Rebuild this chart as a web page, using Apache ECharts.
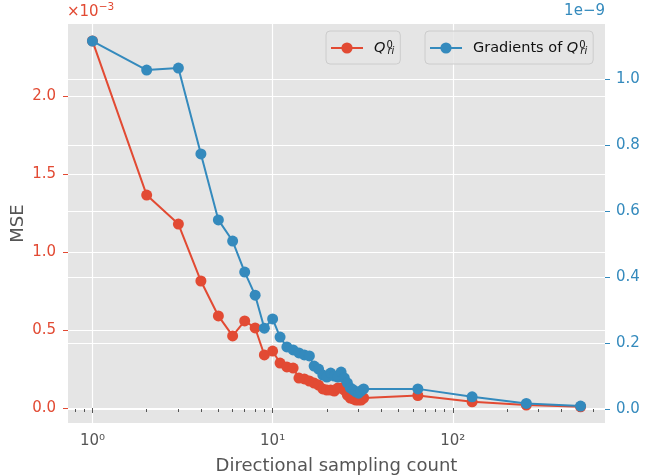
<!DOCTYPE html>
<html>
<head>
<meta charset="utf-8">
<script src="https://cdn.jsdelivr.net/npm/echarts@6/dist/echarts.min.js"></script>
<style>
html,body{margin:0;padding:0;background:#fff;}
#chart{width:651px;height:475px;}
</style>
</head>
<body>
<div id="chart"></div>
<script>
// Directional sampling counts (x, log scale)
const sampleCounts = [1,2,3,4,5,6,7,8,9,10,11,12,13,14,15,16,17,18,19,20,21,22,23,24,25,26,27,28,29,30,31,32,64,128,256,512];
// MSE of Q_ri^0, in units of 1e-3 (left axis)
const mseQ = [2.353,1.365,1.179,0.814,0.590,0.462,0.558,0.513,0.340,0.365,0.288,0.263,0.256,0.192,0.186,0.173,0.160,0.147,0.122,0.115,0.115,0.109,0.128,0.128,0.115,0.083,0.064,0.058,0.051,0.051,0.051,0.064,0.080,0.040,0.019,0.008];
// MSE of gradients of Q_ri^0, in units of 1e-9 (right axis)
const mseGrad = [1.115,1.027,1.033,0.773,0.573,0.509,0.415,0.345,0.245,0.273,0.218,0.188,0.179,0.170,0.164,0.161,0.130,0.121,0.103,0.097,0.109,0.100,0.097,0.112,0.094,0.079,0.064,0.058,0.052,0.048,0.055,0.061,0.061,0.037,0.017,0.009];
// Tick labels / values
const xMajorTicks = [1,10,100];
const xMinorTicks = [0.8,0.9,2,3,4,5,6,7,8,9,20,30,40,50,60,70,80,90,200,300,400,500,600];
const leftTicks = [0,0.5,1.0,1.5,2.0];
const rightTicks = [0,0.2,0.4,0.6,0.8,1.0];
const seriesNames = ['Q_ri^0','Gradients of Q_ri^0'];

const RED = '#E24A33', BLUE = '#348ABD', GRAY = '#555555';
const FONT = 'DejaVu Sans';
const supDigits = {'0':'⁰','1':'¹','2':'²','3':'³','-':'⁻'};

const chart = echarts.init(document.getElementById('chart'), null, {renderer:'canvas'});

const richLegend = {
  t:{fontSize:14.5,fontFamily:FONT,color:'#111',lineHeight:16},
  q:{fontSize:14.5,fontFamily:FONT,fontStyle:'italic',color:'#111',lineHeight:16},
  sup:{fontSize:10,fontFamily:FONT,color:'#111',lineHeight:10,verticalAlign:'top',width:1,padding:[0,0,0,1]},
  sub:{fontSize:10,fontFamily:FONT,fontStyle:'italic',color:'#111',lineHeight:10,verticalAlign:'bottom'}
};
function legendFmt(name){
  if(name === seriesNames[0]) return '{q|Q}{sup|0}{sub|ri}';
  return '{t|Gradients of }{q|Q}{sup|0}{sub|ri}';
}
function legendCfg(idx,left){
  return {
    data:[seriesNames[idx]], left:left, top:31, orient:'horizontal',
    itemWidth:32, itemHeight:14, itemGap:0,
    padding:[9,6,8,4],
    backgroundColor:'rgba(229,229,229,0.8)', borderColor:'#CCCCCC', borderWidth:1, borderRadius:4,
    formatter:legendFmt,
    textStyle:{fontFamily:FONT,fontSize:14.5,color:'#111',padding:[0,0,0,6],rich:richLegend}
  };
}

const xMin = 0.7318, xMax = 699.6;

const option = {
  animation:false,
  backgroundColor:'#ffffff',
  textStyle:{fontFamily:FONT},
  title:[
    {text:'{a|×10}{s|\u22123}', left:67, top:2, padding:0,
     textStyle:{fontWeight:'normal',rich:{
       a:{color:RED,fontSize:15,fontWeight:'normal',fontFamily:FONT,lineHeight:18,verticalAlign:'bottom'},
       s:{color:RED,fontSize:10.5,fontWeight:'normal',fontFamily:FONT,lineHeight:10,verticalAlign:'top'}}}},
    {text:'1e\u22129', right:46, top:4, padding:0,
     textStyle:{color:BLUE,fontSize:15,fontWeight:'normal',fontFamily:FONT}}
  ],
  legend:[legendCfg(0,326), legendCfg(1,425)],
  grid:{left:68,right:46,top:24,bottom:52,show:true,backgroundColor:'#E5E5E5',borderWidth:0,
        containLabel:false,outerBoundsMode:'none'},
  xAxis:[
    {type:'log', logBase:10, min:xMin, max:xMax, position:'bottom',
     name:'Directional sampling count', nameLocation:'middle', nameGap:34, nameMoveOverlap:false,
     nameTextStyle:{color:GRAY,fontSize:18,fontFamily:FONT},
     axisLine:{show:false},
     axisTick:{show:true,customValues:xMajorTicks,length:5,lineStyle:{color:GRAY,width:1}},
     axisLabel:{customValues:xMajorTicks,color:GRAY,fontSize:15,fontFamily:FONT,margin:11,
       formatter:function(v){const e=Math.round(Math.log10(v));return '10'+String(e).split('').map(c=>supDigits[c]).join('');}},
     splitLine:{show:true,lineStyle:{color:'#ffffff',width:1.2}},
     minorTick:{show:false}, minorSplitLine:{show:false}},
    {type:'log', logBase:10, min:xMin, max:xMax, position:'bottom',
     axisLine:{show:false},
     axisTick:{show:true,customValues:xMinorTicks,length:3,lineStyle:{color:GRAY,width:1}},
     axisLabel:{show:false}, splitLine:{show:false}}
  ],
  yAxis:[
    {type:'value', min:-0.0962, max:2.4615, position:'left',
     name:'MSE', nameLocation:'middle', nameGap:41, nameMoveOverlap:false,
     nameTextStyle:{color:GRAY,fontSize:18,fontFamily:FONT},
     axisLine:{show:false},
     axisTick:{show:true,customValues:leftTicks,length:5,lineStyle:{color:RED,width:1}},
     axisLabel:{customValues:leftTicks,color:RED,fontSize:15,fontFamily:FONT,margin:12,
       formatter:v=>Number(v).toFixed(1)},
     splitLine:{show:true,lineStyle:{color:'#ffffff',width:1.2}}},
    {type:'value', min:-0.0424, max:1.1667, position:'right',
     axisLine:{show:false},
     axisTick:{show:true,customValues:rightTicks,length:5,lineStyle:{color:BLUE,width:1}},
     axisLabel:{customValues:rightTicks,color:BLUE,fontSize:15,fontFamily:FONT,margin:11,
       formatter:v=>Number(v).toFixed(1)},
     splitLine:{show:true,lineStyle:{color:'#ffffff',width:1.2}}}
  ],
  series:[
    {name:seriesNames[0], type:'line', xAxisIndex:0, yAxisIndex:0,
     data:sampleCounts.map((x,i)=>[x,mseQ[i]]),
     symbol:'circle', symbolSize:11, showAllSymbol:true,
     lineStyle:{color:RED,width:2}, itemStyle:{color:RED}, z:3},
    {name:seriesNames[1], type:'line', xAxisIndex:0, yAxisIndex:1,
     data:sampleCounts.map((x,i)=>[x,mseGrad[i]]),
     symbol:'circle', symbolSize:11, showAllSymbol:true,
     lineStyle:{color:BLUE,width:2}, itemStyle:{color:BLUE}, z:4}
  ]
};
chart.setOption(option);
</script>
</body>
</html>
